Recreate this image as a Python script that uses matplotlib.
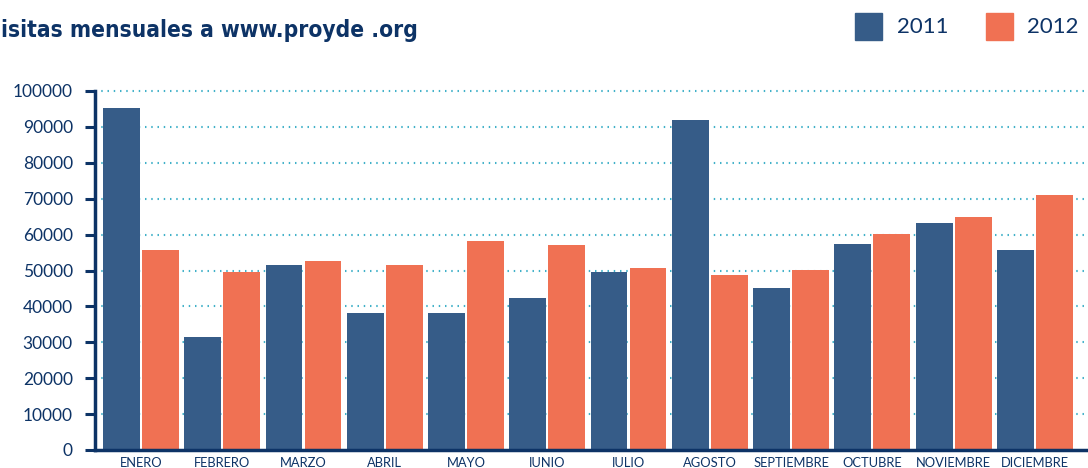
import matplotlib.pyplot as plt
import numpy as np

meses = ['ENERO', 'FEBRERO', 'MARZO', 'ABRIL', 'MAYO', 'IUNIO', 'IULIO',
         'AGOSTO', 'SEPTIEMBRE', 'OCTUBRE', 'NOVIEMBRE', 'DICIEMBRE']
v2011 = [95200, 31400, 51500, 38100, 38100, 42300, 49500, 91800, 45100, 57300, 63200, 55700]
v2012 = [55700, 49500, 52600, 51500, 58200, 57000, 50600, 48700, 50100, 60100, 64800, 71000]

azul = '#365c88'
naranja = '#f07153'
navy = '#0d3366'

fig = plt.figure(figsize=(10.88, 4.68), dpi=100)
ax = fig.add_axes([95 / 1088, 1 - 450 / 468, 1 - 95 / 1088, (450 - 91) / 468])

x = np.arange(len(meses))
w = 0.455
off = 0.24
ax.bar(x - off, v2011, w, color=azul, zorder=3)
ax.bar(x + off, v2012, w, color=naranja, zorder=3)

ax.set_xlim(-0.566, 11.655)
ax.set_ylim(0, 100000)
ax.set_yticks(np.arange(0, 100001, 10000))
ax.set_yticklabels([str(v) for v in range(0, 100001, 10000)],
                   fontfamily='Lato', fontsize=12.5, color=navy)
ax.set_xticks(x)
ax.set_xticklabels(meses, fontfamily='Lato', fontsize=9.3, color=navy)
ax.tick_params(axis='y', length=7, width=2.2, color=navy, pad=9)
ax.tick_params(axis='x', length=0, pad=5)

for yv in range(10000, 100001, 10000):
    ax.axhline(yv, color='#3fb0c8', lw=1.5, ls=(0, (0.7, 2.3)), zorder=1, clip_on=False)

for s in ['top', 'right']:
    ax.spines[s].set_visible(False)
for s in ['left', 'bottom']:
    ax.spines[s].set_color(navy)
    ax.spines[s].set_linewidth(2.5)
    ax.spines[s].set_zorder(4)

fig.text(0.001, 1 - 31 / 468, 'isitas mensuales a www.proyde .org',
         fontfamily='DejaVu Sans', fontstretch='condensed', fontweight='heavy',
         fontsize=16.3, color=navy, va='center', ha='left')

# leyenda
fig.patches.append(plt.Rectangle((855 / 1088, 1 - 40 / 468), 27 / 1088, 27 / 468,
                                 transform=fig.transFigure, color=azul))
fig.patches.append(plt.Rectangle((986 / 1088, 1 - 40 / 468), 27 / 1088, 27 / 468,
                                 transform=fig.transFigure, color=naranja))
fig.text(897 / 1088, 1 - 27 / 468, '2011', fontfamily='Lato',
         fontsize=16, color=navy, va='center')
fig.text(1027 / 1088, 1 - 27 / 468, '2012', fontfamily='Lato',
         fontsize=16, color=navy, va='center')

fig.savefig('out.png', dpi=100)
